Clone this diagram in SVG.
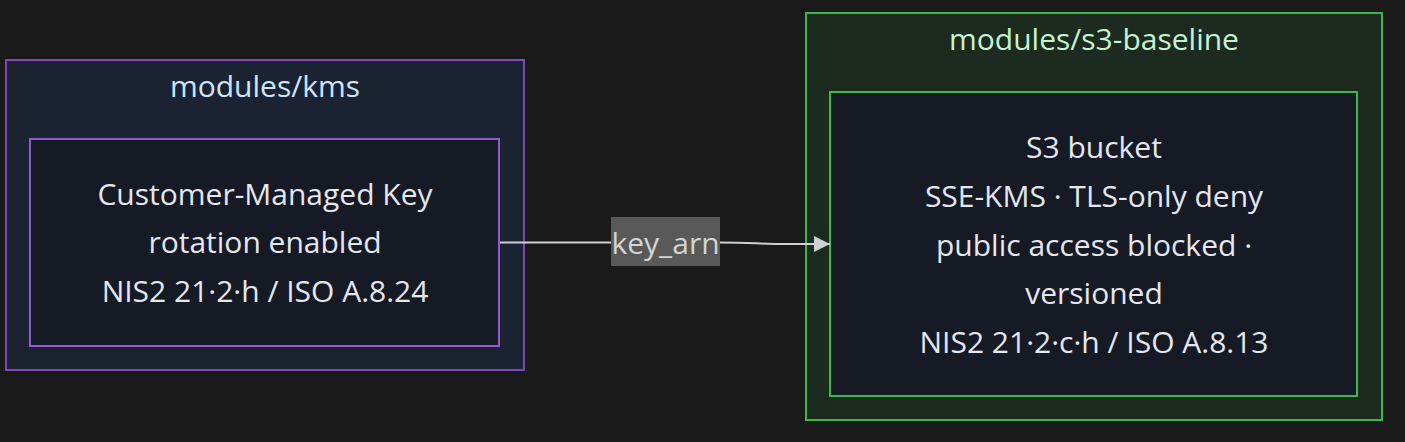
<svg xmlns="http://www.w3.org/2000/svg" width="1405" height="442" viewBox="0 0 1405 442">
<style>
text{font-family:"Open Sans","Noto Sans","Liberation Sans",sans-serif;text-anchor:middle}
.t{font-size:30px;fill:#e4e7ef}
.title{font-size:30px}
.edge{fill:none;stroke:#d0d0d0;stroke-width:2}
</style>
<defs>
<marker id="arr" viewBox="0 0 10 10" refX="10" refY="5" markerWidth="16" markerHeight="16" markerUnits="userSpaceOnUse" orient="auto">
<path d="M0,0L10,5L0,10z" fill="#d0d0d0"/>
</marker>
</defs>
<rect width="1405" height="442" fill="#1a1a1a"/>
<g id="cluster-kms">
<rect x="6" y="60" width="518" height="310" fill="#1b2332" stroke="#7f47b8" stroke-width="2"/>
<text class="title" x="265" y="97" fill="#cfe3ff">modules/kms</text>
</g>
<g id="cluster-s3">
<rect x="806" y="13" width="576" height="407" fill="#1c2a20" stroke="#3db54a" stroke-width="2"/>
<text class="title" x="1094" y="50" fill="#c6f3d2">modules/s3-baseline</text>
</g>
<g id="node-kms">
<rect x="30" y="139" width="469" height="207" fill="#161a25" stroke="#9559d0" stroke-width="2"/>
<text class="t" x="265" y="205">Customer-Managed Key</text>
<text class="t" x="265" y="253">rotation enabled</text>
<text class="t" x="265" y="302">NIS2 21·2·h / ISO A.8.24</text>
</g>
<g id="node-s3">
<rect x="830" y="92" width="527" height="304" fill="#161a25" stroke="#3fb84b" stroke-width="2"/>
<text class="t" x="1094" y="158">S3 bucket</text>
<text class="t" x="1094" y="207">SSE-KMS · TLS-only deny</text>
<text class="t" x="1094" y="256">public access blocked ·</text>
<text class="t" x="1094" y="304">versioned</text>
<text class="t" x="1094" y="353">NIS2 21·2·c·h / ISO A.8.13</text>
</g>
<g id="connectors">
<path class="edge" d="M500,242.5L611,242.5M720,242.5C750,242.5 760,244 780,244L830,244" marker-end="url(#arr)"/>
<g id="edge-label">
<rect x="611" y="217" width="109" height="49" fill="#595959"/>
<text x="665.5" y="254" style="font-size:30px;fill:#d4d4d4">key_arn</text>
</g>
</g>
</svg>
